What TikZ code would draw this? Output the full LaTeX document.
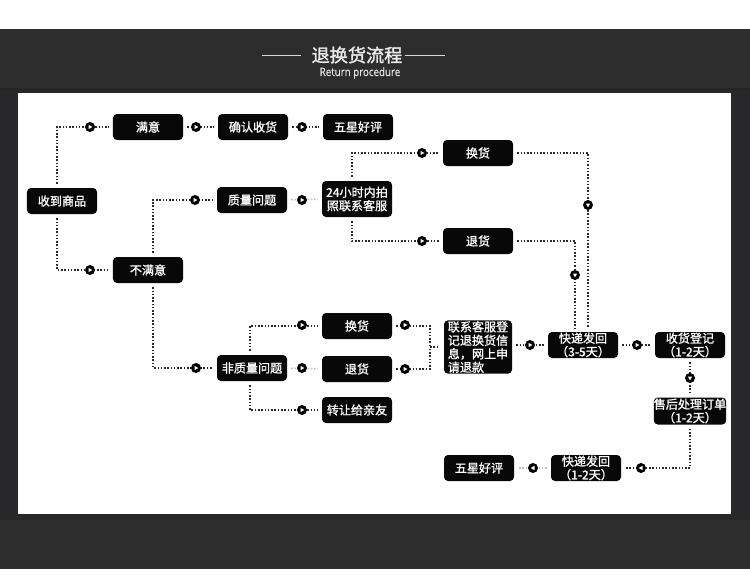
\documentclass[tikz,border=0pt]{standalone}
\usepackage{fontspec}
\usepackage{graphicx}
\setmainfont{Noto Sans CJK SC}[FakeBold=1.2]
\newfontfamily\boxfont{Noto Sans CJK SC}[FakeBold=1.1]
\newfontfamily\titlefont{Noto Sans CJK SC}[FakeBold=1.6]
\newfontfamily\latinfont{Open Sans}[FakeBold=0.6]
\definecolor{band}{HTML}{2D2D2D}
\definecolor{frame}{HTML}{28282A}
\definecolor{dotc}{HTML}{2A2A2A}
\definecolor{lightdot}{HTML}{B4C2D0}
\definecolor{boxc}{HTML}{080808}
\tikzset{
  box/.style={draw=none, fill=boxc, rounded corners=0.12cm, text=white,
    minimum width=2.1cm, minimum height=0.78cm, inner sep=0pt,
    font=\boxfont\fontsize{10.3}{11.5}\selectfont, align=center},
  dl/.style={draw=dotc, line width=1.3pt, dash pattern=on 1.3pt off 1.5pt,
    shorten >=0.12cm, shorten <=0.12cm},
  ll/.style={dl, draw=lightdot},
  mk/.pic={\fill[black] (0,0) circle (0.15cm);
    \fill[white] (-0.045cm,0.065cm)--(0.07cm,0cm)--(-0.045cm,-0.065cm)--cycle;}
}
\begin{document}
\begin{tikzpicture}[x=0.03cm,y=-0.03cm]
\useasboundingbox (0,0) rectangle (750,582);
\fill[white] (0,0) rectangle (750,582);
\fill[band] (0,29) rectangle (750,569);
\fill[frame] (0,88) rectangle (750,520);
\fill[black!85] (0,88) rectangle (750,90);
\fill[white] (18,93) rectangle (731,514);
% title
\node[text=white!92!black, font=\titlefont\fontsize{15.5}{17}\selectfont, inner sep=0pt] (title) at (357,55) {退换货流程};
\node[text=white!90!black, font=\latinfont\fontsize{9.8}{11}\selectfont, inner sep=0pt] (sub) at (360,73) {\scalebox{0.85}[1]{Return procedure}};
\coordinate (tl1) at (262,55); \coordinate (tl2) at (301,55);
\coordinate (tr1) at (405,55); \coordinate (tr2) at (445,55);
\draw[white!85!black, line width=0.8pt] (tl1) -- (tl2);
\draw[white!85!black, line width=0.8pt] (tr1) -- (tr2);
% nodes
\node[box] (shou) at (62,201) {收到商品};
\node[box] (manyi) at (148,127) {满意};
\node[box] (queren) at (253,127) {确认收货};
\node[box] (wux1) at (358,127) {五星好评};
\node[box] (bu) at (148,270) {不满意};
\node[box] (zhil) at (252,200) {质量问题};
\node[box, minimum height=1.08cm] (lx24) at (357,199) {24小时内拍\\照联系客服};
\node[box] (huan1) at (478,153) {换货};
\node[box] (tui1) at (478,241) {退货};
\node[box] (fei) at (252,368) {非质量问题};
\node[box] (huan2) at (357,326) {换货};
\node[box] (tui2) at (357,369) {退货};
\node[box] (zhuan) at (357,410) {转让给亲友};
\node[box, minimum width=2.04cm, minimum height=1.6cm, align=left] (lxkf) at (478,347) {联系客服登\\记退换货信\\息，网上申\\请退款};
\node[box] (kd35) at (583,345) {快递发回\\（3-5天）};
\node[box] (shdj) at (690,345) {收货登记\\（1-2天）};
\node[box, minimum height=0.81cm] (shcl) at (690,411) {售后处理订单\\（1-2天）};
\node[box] (kd12) at (586,468) {快递发回\\（1-2天）};
\node[box] (wux2) at (479,468) {五星好评};
\coordinate (jx) at (430,347);
% connectors
\draw[dl] ([xshift=-0.15cm]shou.north) |- (manyi.west);
\draw[dl] ([xshift=-0.15cm]shou.south) |- (bu.west);
\draw[dl] (manyi) -- (queren);
\draw[dl] (queren) -- (wux1);
\draw[dl] ([xshift=0.15cm]bu.north) |- (zhil.west);
\draw[dl] ([xshift=0.15cm]bu.south) |- (fei.west);
\draw[ll] (zhil) -- (lx24);
\draw[dl] ([xshift=-0.15cm]lx24.north) |- (huan1.west);
\draw[dl] ([xshift=-0.15cm]lx24.south) |- (tui1.west);
\draw[dl] (huan1.east) -| ([xshift=0.15cm]kd35.north);
\draw[dl] (tui1.east) -| ([xshift=-0.24cm]kd35.north);
\draw[dl] ([xshift=-0.06cm]fei.north) |- (huan2.west);
\draw[dl] ([xshift=-0.06cm]fei.south) |- (zhuan.west);
\draw[ll] (fei) -- (tui2);
\draw[dl, shorten >=0pt] (huan2.east) -| (jx);
\draw[dl, shorten >=0pt] (tui2.east) -| (jx);
\draw[dl, shorten <=0pt] (jx) -- (jx -| lxkf.west);
\draw[dl] (lxkf.east |- kd35) -- (kd35);
\draw[dl] (kd35) -- (shdj);
\draw[dl] (shdj) -- (shcl);
\draw[dl] (shcl.south) |- (kd12.east);
\draw[ll] (kd12) -- (wux2);
% markers
\pic at (90,127) {mk};
\pic at (90,270) {mk};
\pic at (196,127) {mk};
\pic at (302,127) {mk};
\pic at (195,200) {mk};
\pic at (196,368) {mk};
\pic at (302,200) {mk};
\pic at (422,153) {mk};
\pic at (422,241) {mk};
\pic[rotate=-90] at (588,205) {mk};
\pic[rotate=-90] at (575,275) {mk};
\pic at (302,325) {mk};
\pic at (302,368) {mk};
\pic at (302,410) {mk};
\pic at (405,325) {mk};
\pic at (405,369) {mk};
\pic at (530,345) {mk};
\pic at (637,345) {mk};
\pic[rotate=-90] at (690,378) {mk};
\pic[rotate=180] at (641,468) {mk};
\pic[rotate=180] at (533,468) {mk};
\end{tikzpicture}
\end{document}
